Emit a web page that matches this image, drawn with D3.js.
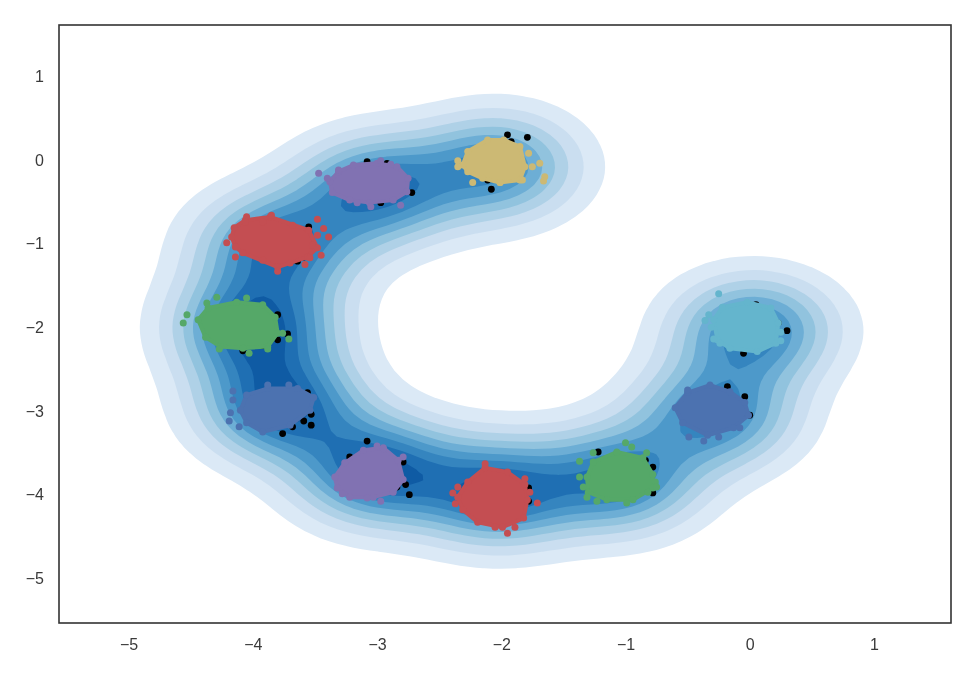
<!DOCTYPE html>
<html>
<head>
<meta charset="utf-8">
<style>
html, body { margin: 0; padding: 0; background: #fff; }
svg { display: block; filter: blur(0.6px); }
.tick text { font-family: "Liberation Sans", Arial, sans-serif; font-size: 16px; fill: #3a3a3a; }
</style>
</head>
<body>
<script src="https://d3js.org/d3.v7.min.js"></script>
<script>
// tick labels
const xTicks = [-5, -4, -3, -2, -1, 0, 1];
const yTicks = [1, 0, -1, -2, -3, -4, -5];

// scatter clusters. body = rim of the dense mass, stray = dots sticking out
const blueLeftBody = [[-4.08,-2.99],[-4.03,-2.81],[-3.86,-2.73],[-3.62,-2.73],[-3.49,-2.84],[-3.52,-2.99],[-3.68,-3.17],[-3.90,-3.25],[-4.03,-3.14]];
const blueLeftStray = [[-4.14,-2.76],[-4.14,-2.87],[-4.16,-3.02],[-4.17,-3.12],[-4.09,-3.19],[-3.86,-2.69],[-3.69,-2.69]];
const greenLeftBody = [[-4.42,-1.91],[-4.34,-1.77],[-4.11,-1.70],[-3.90,-1.73],[-3.80,-1.88],[-3.78,-2.07],[-3.86,-2.23],[-4.06,-2.25],[-4.24,-2.23],[-4.36,-2.12]];
const greenLeftStray = [[-4.54,-1.95],[-4.51,-1.85],[-4.35,-1.71],[-4.27,-1.64],[-4.03,-1.65],[-3.69,-2.14],[-3.74,-2.07],[-3.86,-2.26],[-4.01,-2.31],[-4.25,-2.26]];
const redTopBody = [[-4.13,-0.81],[-4.04,-0.72],[-3.90,-0.74],[-3.84,-0.68],[-3.66,-0.78],[-3.53,-0.84],[-3.50,-1.02],[-3.46,-1.05],[-3.54,-1.16],[-3.68,-1.23],[-3.78,-1.28],[-3.90,-1.20],[-4.06,-1.11],[-4.12,-1.04],[-4.15,-0.92]];
const redTopStray = [[-4.19,-0.99],[-4.12,-1.16],[-4.03,-0.68],[-4.04,-0.74],[-3.83,-0.66],[-3.46,-0.71],[-3.41,-0.82],[-3.46,-0.90],[-3.37,-0.92],[-3.43,-1.14],[-3.56,-1.25],[-3.78,-1.33],[-3.52,-1.17]];
const purpleTopBody = [[-3.36,-0.26],[-3.29,-0.14],[-3.17,-0.06],[-2.98,-0.04],[-2.82,-0.08],[-2.73,-0.22],[-2.74,-0.38],[-2.85,-0.48],[-3.04,-0.51],[-3.20,-0.48],[-3.34,-0.39]];
const purpleTopStray = [[-3.45,-0.16],[-3.38,-0.22],[-3.29,-0.12],[-2.95,-0.01],[-2.87,-0.05],[-2.79,-0.54],[-3.03,-0.56],[-3.14,-0.51]];
const yellowBody = [[-2.29,-0.06],[-2.25,0.10],[-2.09,0.24],[-1.96,0.24],[-1.83,0.16],[-1.79,-0.08],[-1.83,-0.24],[-1.99,-0.27],[-2.13,-0.22],[-2.25,-0.14]];
const yellowStray = [[-2.33,-0.01],[-2.33,-0.08],[-2.21,-0.27],[-1.76,0.08],[-1.67,-0.04],[-1.73,-0.08],[-1.63,-0.20],[-1.64,-0.25],[-1.81,-0.24],[-1.99,-0.27]];
const cyanBody = [[-0.27,-1.91],[-0.20,-1.76],[0,-1.70],[0.19,-1.77],[0.25,-1.95],[0.23,-2.19],[0.08,-2.29],[-0.14,-2.25],[-0.24,-2.15]];
const cyanStray = [[-0.23,-1.60],[-0.31,-1.85],[-0.34,-1.92],[-0.29,-2.00],[-0.27,-2.14],[-0.22,-2.19],[0.27,-2.16],[0.27,-2.06]];
const blueRightBody = [[-0.58,-2.96],[-0.48,-2.78],[-0.30,-2.69],[-0.14,-2.77],[-0.02,-2.90],[0.01,-3.05],[-0.11,-3.20],[-0.32,-3.29],[-0.52,-3.14]];
const blueRightStray = [[-0.47,-3.31],[-0.35,-3.36],[-0.23,-3.31],[-0.06,-3.20],[-0.48,-2.75]];
const greenRightBody = [[-1.29,-3.79],[-1.24,-3.61],[-1.05,-3.49],[-0.84,-3.56],[-0.76,-3.76],[-0.76,-3.92],[-0.92,-4.06],[-1.13,-4.06],[-1.28,-3.97]];
const greenRightStray = [[-1.35,-3.60],[-1.35,-3.79],[-1.32,-3.91],[-1.29,-4.03],[-1.21,-4.08],[-1.24,-3.50],[-0.98,-3.38],[-0.93,-3.43],[-0.81,-3.50],[-0.97,-4.10],[-0.74,-3.85],[-0.73,-3.91],[-0.80,-3.97]];
const redLowBody = [[-2.33,-4.03],[-2.25,-3.85],[-2.11,-3.68],[-1.93,-3.73],[-1.79,-3.88],[-1.77,-4.06],[-1.80,-4.28],[-1.97,-4.39],[-2.17,-4.33],[-2.29,-4.18]];
const redLowStray = [[-2.37,-3.98],[-2.33,-3.91],[-2.35,-4.11],[-2.11,-3.63],[-1.79,-3.81],[-1.75,-3.97],[-1.69,-4.10],[-1.87,-4.39],[-1.93,-4.46],[-2.03,-4.39]];
const purpleLowBody = [[-3.32,-3.79],[-3.24,-3.62],[-3.09,-3.47],[-2.93,-3.44],[-2.81,-3.59],[-2.77,-3.82],[-2.85,-3.97],[-3.01,-4.03],[-3.20,-4.03],[-3.30,-3.92]];
const purpleLowStray = [[-2.98,-3.42],[-2.93,-3.45],[-2.77,-3.55],[-2.95,-4.08],[-3.26,-3.99],[-3.06,-4.04]];

// the black dots underneath
const blackDots = [
  [-3.53,-0.80],[-3.62,-1.21],[-3.57,-1.16],[-3.66,-1.20],
  [-2.70,-0.39],[-2.75,-0.31],[-2.90,-0.04],[-3.06,-0.02],[-2.95,-0.51],
  [-3.78,-1.85],[-3.70,-2.08],[-3.78,-2.15],[-4.06,-2.28],[-3.90,-2.22],
  [-1.93,0.30],[-1.77,0.27],[-1.90,0.22],[-2.06,-0.35],[-2.09,-0.24],
  [-3.74,-3.27],[-3.57,-3.12],[-3.51,-3.17],[-3.51,-3.04],[-3.66,-3.19],[-3.54,-2.78],
  [-3.06,-3.36],[-3.20,-3.55],[-2.75,-3.88],[-2.72,-4.00],[-2.77,-3.61],[-2.82,-3.91],
  [-1.76,-4.08],[-1.76,-3.92],[-1.85,-3.93],
  [-1.20,-3.49],[-0.76,-3.67],[-0.76,-3.98],[-0.82,-3.59],
  [0.32,-2.04],[0.25,-1.95],[0.07,-1.73],[-0.03,-2.31],
  [-0.02,-2.83],[-0.16,-2.71],[-0.11,-3.16],[0.02,-3.05]
];

const clusters = [
  {body: blueLeftBody, stray: blueLeftStray, color: "#4C72B0"},
  {body: greenLeftBody, stray: greenLeftStray, color: "#55A868"},
  {body: redTopBody, stray: redTopStray, color: "#C44E52"},
  {body: purpleTopBody, stray: purpleTopStray, color: "#8172B2"},
  {body: yellowBody, stray: yellowStray, color: "#CCB974"},
  {body: cyanBody, stray: cyanStray, color: "#64B5CD"},
  {body: blueRightBody, stray: blueRightStray, color: "#4C72B0"},
  {body: greenRightBody, stray: greenRightStray, color: "#55A868"},
  {body: redLowBody, stray: redLowStray, color: "#C44E52"},
  {body: purpleLowBody, stray: purpleLowStray, color: "#8172B2"}
];

// my x readings came out a touch high, the zero tick sits further right than I read it
const xReadingFix = -0.02;

// kde shading: where the density ridge sits and how heavy each lobe looks
const kdeCentersX = [-3.77, -3.98, -3.8, -3.0, -2.03, 0.03, -0.28, -1.05, -2.03, -3.0];
const kdeCentersY = [-2.95, -2.0, -1.02, -0.36, -0.08, -2.03, -3.05, -3.82, -3.97, -3.72];
const kdeWeights = [1.1, 1.12, 0.97, 1.0, 0.88, 0.95, 0.9, 0.95, 1.05, 1.1];
const bandwidth = 0.44;
const levelColors = ["#dbe9f6", "#cadef0", "#afd1e7", "#91c3de", "#6daed5", "#4d99ca", "#3585bf", "#1f6fb3", "#0f5ba4", "#08519c"];
const levelStep = 0.0105;

const width = 974, height = 674;
const svg = d3.select("body").append("svg")
    .attr("width", width)
    .attr("height", height);

const x = d3.scaleLinear().domain([-5.56, 1.62]).range([59, 951]);
const y = d3.scaleLinear().domain([-5.534, 1.613]).range([623, 25]);

// density on a grid, one gaussian kernel per lobe
const nx = 110, ny = 110;
const x0 = -5.56, x1 = 1.62, y0 = -5.534, y1 = 1.613;
const dx = (x1 - x0) / (nx - 1), dy = (y1 - y0) / (ny - 1);
const norm = 1 / (2 * Math.PI * bandwidth * bandwidth * kdeWeights.length);
const grid = new Float64Array(nx * ny);
for (let j = 0; j < ny; j++) {
    for (let i = 0; i < nx; i++) {
        let gx = x0 + i * dx, gy = y0 + j * dy, sum = 0;
        kdeWeights.forEach((w, k) => {
            let a = (gx - kdeCentersX[k]) / bandwidth, b = (gy - kdeCentersY[k]) / bandwidth;
            sum += w * Math.exp(-0.5 * (a * a + b * b));
        });
        grid[j * nx + i] = sum * norm;
    }
}

const thresholds = levelColors.map((_, i) => (i + 1) * levelStep);
const contours = d3.contours().size([nx, ny]).thresholds(thresholds)(grid);

const toPlot = d3.geoTransform({
    point: function (gx, gy) {
        this.stream.point(x(x0 + (gx - 0.5) * dx), y(y0 + (gy - 0.5) * dy));
    }
});
const path = d3.geoPath(toPlot);

svg.append("g").selectAll("path")
    .data(contours)
    .join("path")
    .attr("d", path)
    .attr("fill", (d, i) => levelColors[i]);

svg.append("g").selectAll("circle")
    .data(blackDots)
    .join("circle")
    .attr("cx", d => x(d[0] + xReadingFix))
    .attr("cy", d => y(d[1]))
    .attr("r", 3.4)
    .attr("fill", "#000");

const line = d3.line().x(d => x(d[0] + xReadingFix)).y(d => y(d[1])).curve(d3.curveLinearClosed);

clusters.forEach(c => {
    let g = svg.append("g");
    g.append("path")
        .attr("d", line(d3.polygonHull(c.body)))
        .attr("fill", c.color)
        .attr("stroke", c.color)
        .attr("stroke-width", 4)
        .attr("stroke-linejoin", "round");
    g.selectAll("circle")
        .data(c.body.concat(c.stray))
        .join("circle")
        .attr("cx", d => x(d[0] + xReadingFix))
        .attr("cy", d => y(d[1]))
        .attr("r", 3.5)
        .attr("fill", c.color);
});

// axes, no tick marks, just the labels
const xAxis = d3.axisBottom(x).tickValues(xTicks).tickSize(0).tickPadding(16);
const yAxis = d3.axisLeft(y).tickValues(yTicks).tickSize(0).tickPadding(15);
const gx = svg.append("g").attr("transform", "translate(0,623)").call(xAxis);
const gy = svg.append("g").attr("transform", "translate(59,0)").call(yAxis);
gx.select(".domain").remove();
gy.select(".domain").remove();

svg.append("rect")
    .attr("x", 59).attr("y", 25)
    .attr("width", 892).attr("height", 598)
    .attr("fill", "none")
    .attr("stroke", "#333")
    .attr("stroke-width", 1.6);
</script>
</body>
</html>
